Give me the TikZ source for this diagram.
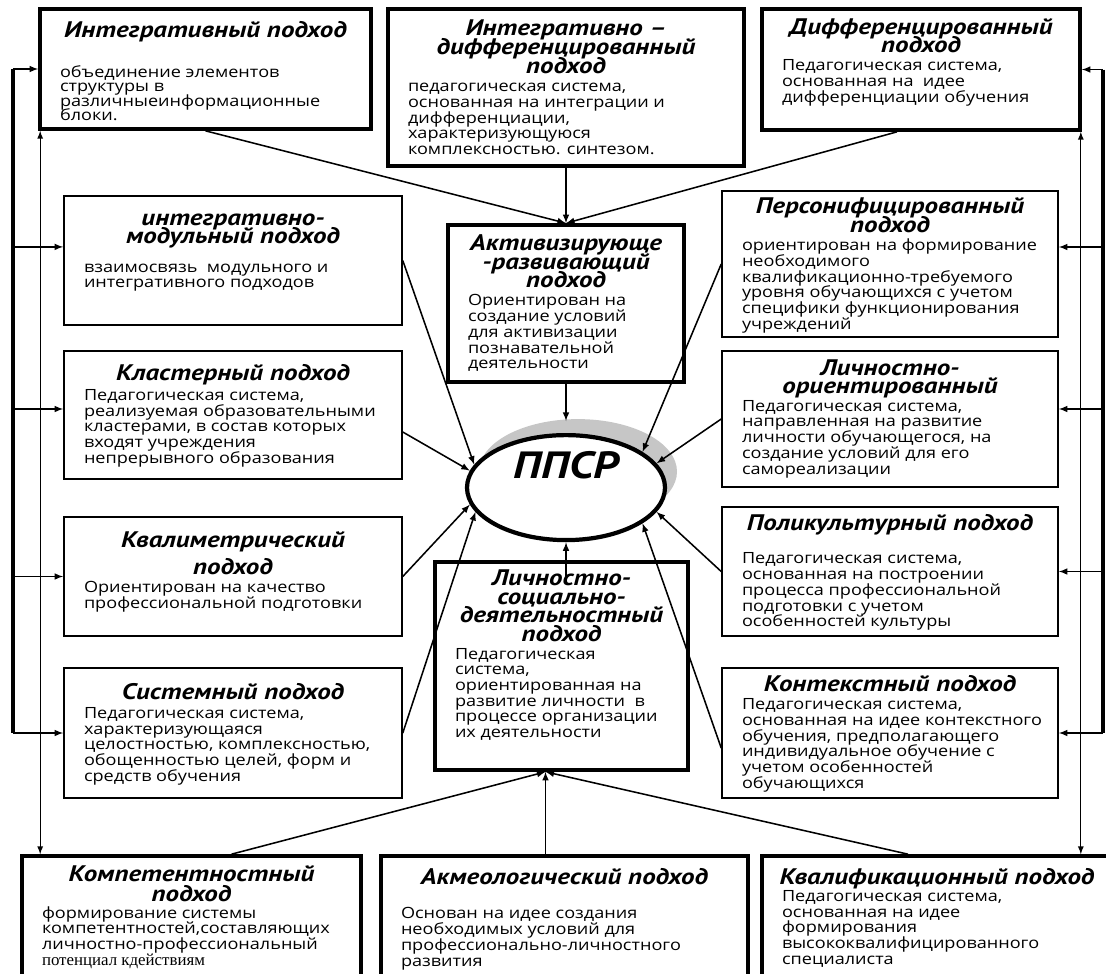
\documentclass[tikz,border=0pt]{standalone}
\usepackage{fontspec}
\setmainfont{Open Sans}[FakeStretch=1.17]
\newfontfamily\ttlfont{PT Sans}[FakeStretch=1.2]
\newfontfamily\lastfont{Liberation Serif}
\usetikzlibrary{shapes.geometric,shadows}

\newcommand{\ttl}{\ttlfont\bfseries\itshape\fontsize{16}{13.2}\selectfont}
\newcommand{\bdy}{\fontsize{11}{11.2}\selectfont}
% box text: width, height, top gap, title, title-body gap, body
\newcommand{\apbox}[6]{\parbox[c][#2][t]{#1}{\lineskiplimit=-50pt
  \vspace*{#3}{\centering\ttl #4\par}\vspace{#5}%
  {\bdy\raggedright\leftskip=0.5cm\rightskip=-3cm plus 1fil\relax #6\par}}}

\begin{document}
\begin{tikzpicture}
    \tikzstyle{box_thin} = [draw, line width=1.1, fill=white, inner sep=0pt]
    \tikzstyle{box_thick} = [box_thin, line width=2.6]
    \tikzstyle{arrow_style} = [->, black, line width=1.1, >=latex]
    \tikzstyle{link_style} = [<->, black, line width=0.9, >=latex]
    \tikzstyle{bus_style} = [black, line width=3]

    \useasboundingbox[fill=white] (0,0) rectangle (27.65,-24.325);

    % top row
    \node[box_thick] (integr) at (5.1375,-1.725) {\apbox{8.275cm}{3.0cm}{0.3cm}{Интегративный подход}{19pt}{\baselineskip=10pt
        объединение элементов\\структуры в\\различныеинформационные\\блоки.}};
    \node[box_thick] (intdiff) at (14.15,-2.1875) {\apbox{8.9cm}{3.925cm}{0.28cm}{Интегративно –\\дифференцированный\\подход}{2pt}{педагогическая система,\\основанная на интеграции и\\дифференциации,\\характеризующуюся\\комплексностью. синтезом.}};
    \node[box_thick] (diff) at (23.025,-1.7375) {\apbox{7.95cm}{3.025cm}{0.24cm}{Дифференцированный\\подход}{1.4pt}{Педагогическая система,\\основанная на~ идее\\дифференциации обучения}};

    % left column
    \node[box_thin] (modul) at (5.825,-6.5125) {\apbox{8.45cm}{3.225cm}{0.44cm}{интегративно-\\модульный подход}{9pt}{взаимосвязь~ модульного и\\интегративного подходов}};
    \node[box_thin] (klast) at (5.825,-10.375) {\apbox{8.45cm}{3.2cm}{0.33cm}{Кластерный подход}{3pt}{Педагогическая система,\\реализуемая образовательными\\кластерами, в состав которых\\входят учреждения\\непрерывного образования}};
    \node[box_thin] (kvalim) at (5.825,-14.4125) {\apbox{8.45cm}{2.975cm}{0.36cm}{Квалиметрический\\[6pt]подход}{2pt}{Ориентирован на качество\\профессиональной подготовки}};
    \node[box_thin] (sistem) at (5.825,-18.325) {\apbox{8.45cm}{3.25cm}{0.38cm}{Системный подход}{2.3pt}{Педагогическая система,\\характеризующаяся\\целостностью, комплексностью,\\обощенностью целей, форм и\\средств обучения}};

    % middle column
    \node[box_thick] (aktiv) at (14.15,-7.5875) {\apbox{5.9cm}{3.925cm}{0.25cm}{Активизирующе\\-развивающий\\подход}{1.6pt}{Ориентирован на\\создание условий\\для активизации\\познавательной\\деятельности}};
    \node[ellipse, draw, line width=3, fill=white, inner sep=0pt, minimum width=4.95cm, minimum height=2.625cm,
        text height=19pt, text depth=32pt, font=\ttl\fontsize{27}{27}\selectfont,
        general shadow={fill=gray!45, shadow xshift=0.3cm, shadow yshift=0.4cm}] (ppsr) at (14.15,-12.19) {ППСР};
    \node[box_thick] (lsd) at (14.0375,-16.65) {\apbox{6.325cm}{5.2cm}{0.2cm}{Личностно-\\социально-\\деятельностный\\подход}{1.3pt}{Педагогическая\\система,\\ориентированная на\\развитие личности~ в\\процессе организации\\их деятельности}};

    % right column
    \node[box_thin] (person) at (22.25,-6.6) {\apbox{8.4cm}{3.65cm}{0.17cm}{Персонифицированный\\подход}{1.9pt}{ориентирован на формирование\\необходимого\\квалификационно-требуемого\\уровня обучающихся с учетом\\специфики функционирования\\учреждений}};
    \node[box_thin] (lichn) at (22.25,-10.475) {\apbox{8.4cm}{3.4cm}{0.21cm}{Личностно-\\ориентированный}{1.2pt}{Педагогическая система,\\направленная на развитие\\личности обучающегося, на\\создание условий для его\\самореализации}};
    \node[box_thin] (polik) at (22.25,-14.2875) {\apbox{8.4cm}{3.225cm}{0.19cm}{Поликультурный подход}{12.3pt}{Педагогическая система,\\основанная на построении\\процесса профессиональной\\подготовки с учетом\\особенностей культуры}};
    \node[box_thin] (kontekst) at (22.25,-18.325) {\apbox{8.4cm}{3.25cm}{0.19cm}{Контекстный подход}{1.6pt}{Педагогическая система,\\основанная на идее контекстного\\обучения, предполагающего\\индивидуальное обучение с\\учетом особенностей\\обучающихся}};

    % bottom row
    \node[box_thick] (komp) at (4.7875,-23.075) {\apbox{8.475cm}{3.35cm}{0.24cm}{Компетентностный\\[1pt]подход}{0.6pt}{формирование системы\\компетентностей,составляющих\\личностно-профессиональный\\{\lastfont\fontsize{12}{11.2}\selectfont потенциал кдействиям}}};
    \node[box_thick] (akmeo) at (14.1125,-23.075) {\apbox{9.175cm}{3.35cm}{0.3cm}{Акмеологический подход}{13.5pt}{Основан на идее создания\\необходимых условий для\\профессионально-личностного\\развития}};
    \node[box_thick] (kvalif) at (23.425,-23.075) {\apbox{8.75cm}{3.35cm}{0.3cm}{Квалификационный подход}{1pt}{Педагогическая система,\\основанная на идее\\формирования\\высококвалифицированного\\специалиста}};

    \coordinate (lbus) at (0.325,0);
    \coordinate (rbus) at (27.575,0);
    \coordinate (lsdin) at ([xshift=-0.4cm]lsd.south);

    % left side
    \draw[bus_style] (integr.west -| lbus) -- (sistem.west -| lbus);
    \draw[arrow_style] (integr.west -| lbus) -- (integr.west);
    \draw[arrow_style] ([yshift=0.34cm]modul.west -| lbus) -- ([yshift=0.34cm]modul.west);
    \draw[arrow_style] ([yshift=0.15cm]klast.west -| lbus) -- ([yshift=0.15cm]klast.west);
    \draw[arrow_style] (kvalim.west -| lbus) -- (kvalim.west);
    \draw[arrow_style] (sistem.west -| lbus) -- (sistem.west);
    \draw[link_style] ([xshift=0.05cm]integr.south west) -- ([xshift=0.05cm]integr.south west |- komp.north);

    % right side
    \draw[bus_style] (diff.east -| rbus) -- (kontekst.east -| rbus);
    \draw[arrow_style] (diff.east -| rbus) -- (diff.east);
    \draw[arrow_style] ([yshift=0.425cm]person.east -| rbus) -- ([yshift=0.425cm]person.east);
    \draw[arrow_style] ([yshift=0.25cm]lichn.east -| rbus) -- ([yshift=0.25cm]lichn.east);
    \draw[arrow_style] (polik.east -| rbus) -- (polik.east);
    \draw[arrow_style] (kontekst.east -| rbus) -- (kontekst.east);
    \draw[link_style] ([xshift=-0.025cm]diff.south east) -- ([xshift=-0.025cm]diff.south east |- kvalif.north);

    % into the centre
    \draw[arrow_style] (integr.south) -- (aktiv.north);
    \draw[arrow_style] (intdiff.south) -- (aktiv.north);
    \draw[arrow_style] ([xshift=-0.6cm]diff.south) -- (aktiv.north);
    \draw[arrow_style, shorten >=0.3cm] (aktiv.south) -- (ppsr.north);
    \draw[arrow_style] (modul.east) -- (ppsr.166);
    \draw[arrow_style] ([yshift=-0.425cm]klast.east) -- (ppsr.170);
    \draw[arrow_style] (kvalim.east) -- (ppsr.190);
    \draw[arrow_style] (sistem.east) -- (ppsr.195);
    \draw[arrow_style] (person.west) -- (ppsr.25);
    \draw[arrow_style] (lichn.west) -- (ppsr.15);
    \draw[arrow_style] (polik.west) -- (ppsr.345);
    \draw[arrow_style] ([yshift=-0.375cm]kontekst.west) -- (ppsr.335);
    \draw[arrow_style] ([yshift=-0.45cm]lsd.north -| ppsr) -- (ppsr.south);
    \draw[arrow_style] ([xshift=1cm]komp.north) -- (lsdin);
    \draw[arrow_style] (akmeo.north -| lsdin) -- (lsdin);
    \draw[arrow_style] ([xshift=-0.725cm]kvalif.north) -- (lsdin);
\end{tikzpicture}
\end{document}
